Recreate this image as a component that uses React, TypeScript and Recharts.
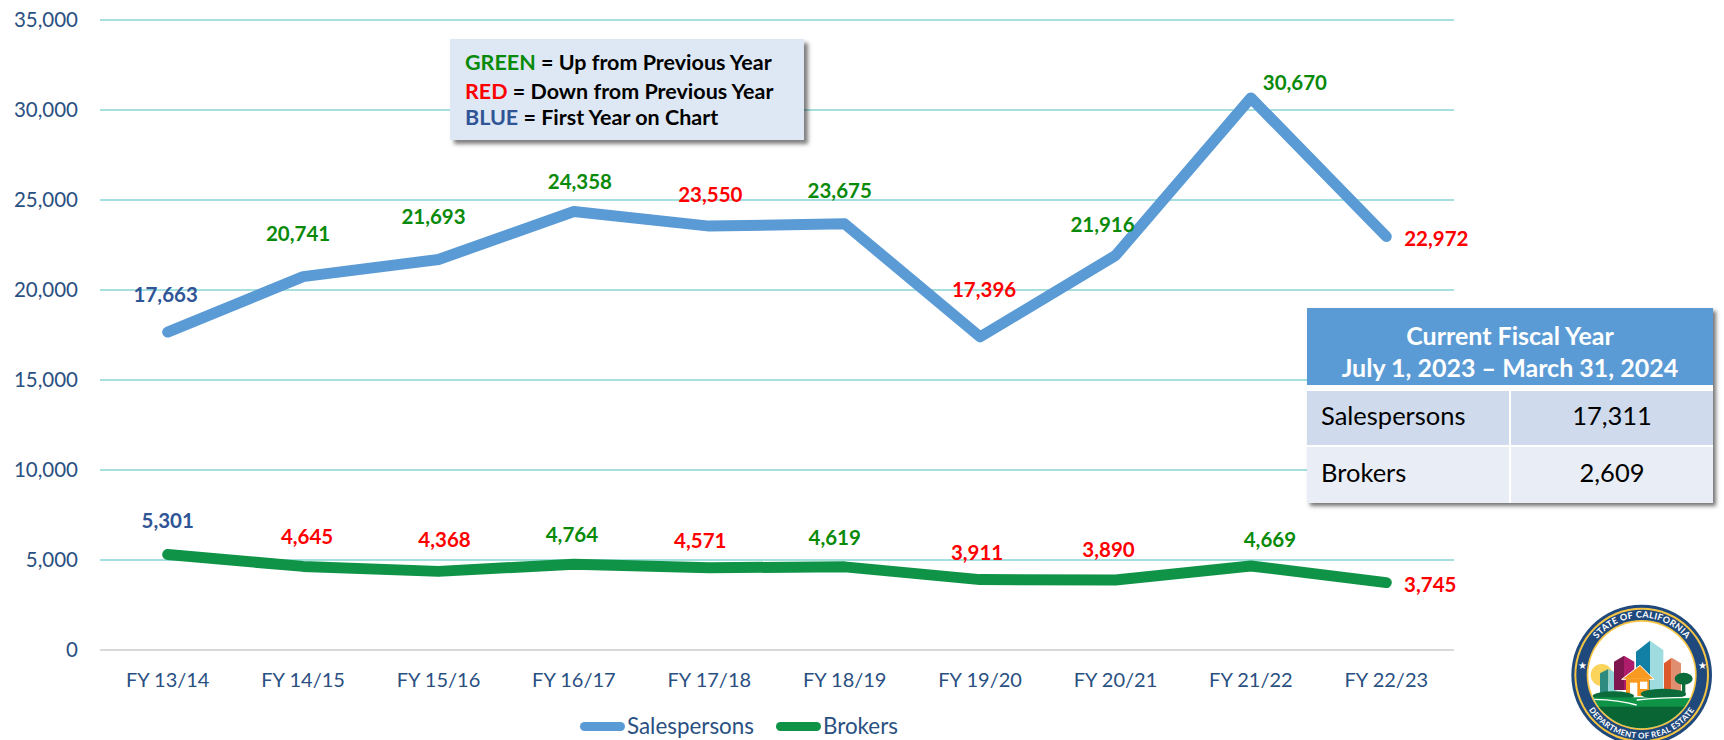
import React from "react";
import { LineChart, Line, XAxis, YAxis, CartesianGrid, Legend, LabelList } from "recharts";

const years = ["FY 13/14", "FY 14/15", "FY 15/16", "FY 16/17", "FY 17/18", "FY 18/19", "FY 19/20", "FY 20/21", "FY 21/22", "FY 22/23"];
const salespersons = [17663, 20741, 21693, 24358, 23550, 23675, 17396, 21916, 30670, 22972];
const brokers = [5301, 4645, 4368, 4764, 4571, 4619, 3911, 3890, 4669, 3745];
const yTicks = [0, 5000, 10000, 15000, 20000, 25000, 30000, 35000];

const rows = years.map((year, i) => ({ year, salespersons: salespersons[i], brokers: brokers[i] }));

// hand placed label nudges, relative to each point
const salesNudge = [[-2, -38], [-5, -44], [-5, -44], [6, -31], [1, -32], [-5, -34], [4, -48], [-13, -32], [44, -16], [50, 1]];
const brokerNudge = [[0, -35], [4, -30], [6, -32], [-2, -30], [-9, -28], [-10, -30], [-3, -28], [-7, -31], [19, -27], [44, 1]];

const FONT = "Lato, sans-serif";
const NAVY = "#2A5082";
const GREEN = "#098A09";
const RED = "#FF0000";
const BLUE = "#2F5597";

function changeColor(values: number[], i: number) {
  if (i === 0) return BLUE;
  return values[i] >= values[i - 1] ? GREEN : RED;
}

function makeLabel(values: number[], nudge: number[][]) {
  return function PointLabel(props: any) {
    const { x, y, index } = props;
    return (
      <text
        x={x + nudge[index][0]}
        y={y + nudge[index][1]}
        textAnchor="middle"
        dominantBaseline="central"
        fontFamily={FONT}
        fontWeight={700}
        fontSize={20.5}
        fill={changeColor(values, index)}
      >
        {values[index].toLocaleString("en-US")}
      </text>
    );
  };
}

// Custom legend, thick rounded swatches like the original
function ChartLegend({ payload }: { payload?: Array<{ value: string; color: string }> }) {
  if (!payload) return null;
  return (
    <div style={{ display: "flex", fontFamily: FONT, fontSize: 22.4, color: NAVY, lineHeight: "26px" }}>
      {payload.map((entry, index) => (
        <div key={index} style={{ display: "flex", alignItems: "center", marginRight: index === 0 ? 22 : 0 }}>
          <span style={{ width: 45, height: 9, borderRadius: 5, background: entry.color, marginRight: 2 }} />
          <span>{entry.value}</span>
        </div>
      ))}
    </div>
  );
}

function KeyBox() {
  const line = (top: number, word: string, color: string, rest: string) => (
    <div style={{ position: "absolute", left: 15, top, whiteSpace: "nowrap", lineHeight: "24px" }}>
      <span style={{ color }}>{word}</span>
      <span style={{ color: "#000" }}> = {rest}</span>
    </div>
  );
  return (
    <div
      style={{
        position: "absolute", left: 450, top: 39, width: 354, height: 101,
        background: "#DEE8F4", boxShadow: "4px 4px 4px rgba(0,0,0,0.5)",
        fontFamily: FONT, fontWeight: 700, fontSize: 21.5,
      }}
    >
      {line(11, "GREEN", GREEN, "Up from Previous Year")}
      {line(40, "RED", RED, "Down from Previous Year")}
      {line(66, "BLUE", BLUE, "First Year on Chart")}
    </div>
  );
}

function FiscalTable() {
  const cell = { position: "absolute", display: "flex", alignItems: "center", color: "#000", paddingBottom: 6, boxSizing: "border-box" } as React.CSSProperties;
  return (
    <div
      style={{
        position: "absolute", left: 1307, top: 308, width: 406, height: 195,
        background: "#fff", boxShadow: "3px 3px 4px rgba(0,0,0,0.55)", fontFamily: FONT, fontSize: 25.5,
      }}
    >
      <div
        style={{
          position: "absolute", left: 0, top: 0, width: 406, height: 77, background: "#5B9BD5",
          color: "#fff", fontWeight: 700, textAlign: "center", fontSize: 25, lineHeight: "32px", paddingTop: 11, boxSizing: "border-box",
        }}
      >
        Current Fiscal Year
        <br />
        July 1, 2023 – March 31, 2024
      </div>
      <div style={{ ...cell, left: 0, top: 83, width: 202, height: 54, background: "#CFDAEC", paddingLeft: 14 }}>Salespersons</div>
      <div style={{ ...cell, left: 204, top: 83, width: 202, height: 54, background: "#CFDAEC", justifyContent: "center" }}>17,311</div>
      <div style={{ ...cell, left: 0, top: 139, width: 202, height: 56, background: "#E9EDF5", paddingLeft: 14 }}>Brokers</div>
      <div style={{ ...cell, left: 204, top: 139, width: 202, height: 56, background: "#E9EDF5", justifyContent: "center" }}>2,609</div>
    </div>
  );
}

// Department seal, drawn in a 3x coordinate space then scaled down
function Seal() {
  const cx = 425;
  const cy = 255;
  return (
    <svg style={{ position: "absolute", left: 1500, top: 590 }} width={224} height={150} viewBox="0 0 672 450">
      <defs>
        <clipPath id="sealInner">
          <circle cx={cx} cy={cy} r={160} />
        </clipPath>
        <path id="sealTop" d={`M ${cx - 166} ${cy + 40} A 171 171 0 1 1 ${cx + 166} ${cy + 40}`} />
        <path id="sealBottom" d={`M ${cx - 185} ${cy + 40} A 189 189 0 0 0 ${cx + 185} ${cy + 40}`} />
      </defs>
      <circle cx={cx} cy={cy} r={211} fill="#1F497D" />
      <circle cx={cx} cy={cy} r={202} fill="#F6C544" />
      <circle cx={cx} cy={cy} r={196} fill="#1F497D" />
      <circle cx={cx} cy={cy} r={165} fill="#F6C544" />
      <circle cx={cx} cy={cy} r={160} fill="#fff" />
      <text fontFamily={FONT} fontWeight={700} fontSize={27} letterSpacing={1} fill="#fff">
        <textPath href="#sealTop" startOffset="50%" textAnchor="middle">STATE OF CALIFORNIA</textPath>
      </text>
      <text fontFamily={FONT} fontWeight={700} fontSize={24} letterSpacing={1} fill="#fff">
        <textPath href="#sealBottom" startOffset="50%" textAnchor="middle">DEPARTMENT OF REAL ESTATE</textPath>
      </text>
      <text x={247} y={236} textAnchor="middle" fontSize={30} fill="#fff">★</text>
      <text x={606} y={238} textAnchor="middle" fontSize={30} fill="#fff">★</text>
      <g clipPath="url(#sealInner)">
        <circle cx={305} cy={255} r={33} fill="#FBD45B" />
        <polygon points="300,310 300,250 325,237 325,310" fill="#2E8B80" />
        <polygon points="325,237 350,250 350,310 325,310" fill="#8ED4D6" />
        <polygon points="342,300 342,215 372,197 372,300" fill="#7F1650" />
        <polygon points="372,197 403,215 403,300 372,300" fill="#AD1D6C" />
        <polygon points="408,185 450,152 450,305 408,305" fill="#1280A5" />
        <polygon points="450,152 490,180 490,305 450,305" fill="#9FDCE0" />
        <polygon points="492,220 515,203 515,310 492,310" fill="#DC5A2C" />
        <polygon points="515,203 543,220 543,310 515,310" fill="#E08E70" />
        <polygon points="365,268 420,226 462,268" fill="#F9991F" stroke="#fff" strokeWidth={3} />
        <rect x={378} y={266} width={70} height={52} fill="#F9991F" />
        <rect x={390} y={278} width={22} height={40} fill="#fff" />
        <rect x={420} y={275} width={22} height={22} fill="#fff" />
        <ellipse cx={340} cy={318} rx={62} ry={14} fill="#0B6B3A" />
        <ellipse cx={490} cy={312} rx={68} ry={16} fill="#0B6B3A" />
        <rect x={546} y={280} width={10} height={38} fill="#0B6B3A" />
        <ellipse cx={551} cy={266} rx={27} ry={18} fill="#0B6B3A" />
        <rect x={250} y={322} width={350} height={40} fill="#0F9347" />
        <rect x={250} y={350} width={350} height={80} fill="#0A6534" />
        <path d="M 280 328 Q 360 330 410 345" stroke="#fff" strokeWidth={4} fill="none" />
        <path d="M 410 330 Q 480 322 570 322" stroke="#fff" strokeWidth={4} fill="none" />
      </g>
    </svg>
  );
}

export default function App() {
  return (
    <div style={{ position: "absolute", left: 0, top: 0, width: 1724, height: 740, overflow: "hidden", background: "#fff" }}>
      <LineChart width={1724} height={740} data={rows} margin={{ top: 20, right: 270, left: 0, bottom: 0 }}>
        <CartesianGrid horizontal vertical={false} stroke="#A5E0DE" strokeWidth={2} />
        <XAxis
          dataKey="year"
          scale="band"
          height={90}
          tickLine={false}
          tickSize={0}
          tickMargin={23}
          axisLine={{ stroke: "#D9D9D9", strokeWidth: 2 }}
          tick={{ fontFamily: FONT, fontSize: 20, fill: NAVY }}
          interval={0}
        />
        <YAxis
          width={100}
          domain={[0, 35000]}
          ticks={yTicks}
          tickLine={false}
          axisLine={false}
          tickSize={0}
          tickMargin={22}
          tick={{ fontFamily: FONT, fontSize: 20.5, fill: NAVY }}
          tickFormatter={(value) => Number(value).toLocaleString("en-US")}
        />
        <Line
          dataKey="salespersons"
          name="Salespersons"
          stroke="#5B9BD5"
          strokeWidth={11}
          strokeLinecap="round"
          strokeLinejoin="round"
          dot={false}
          isAnimationActive={false}
        >
          <LabelList dataKey="salespersons" content={makeLabel(salespersons, salesNudge)} />
        </Line>
        <Line
          dataKey="brokers"
          name="Brokers"
          stroke="#0F9347"
          strokeWidth={11}
          strokeLinecap="round"
          strokeLinejoin="round"
          dot={false}
          isAnimationActive={false}
        >
          <LabelList dataKey="brokers" content={makeLabel(brokers, brokerNudge)} />
        </Line>
        <Legend
          verticalAlign="middle"
          itemSorter={null}
          content={<ChartLegend />}
          wrapperStyle={{ position: "absolute", left: 580, top: 713, width: 360, height: 26 }}
        />
      </LineChart>
      <KeyBox />
      <FiscalTable />
      <Seal />
    </div>
  );
}
